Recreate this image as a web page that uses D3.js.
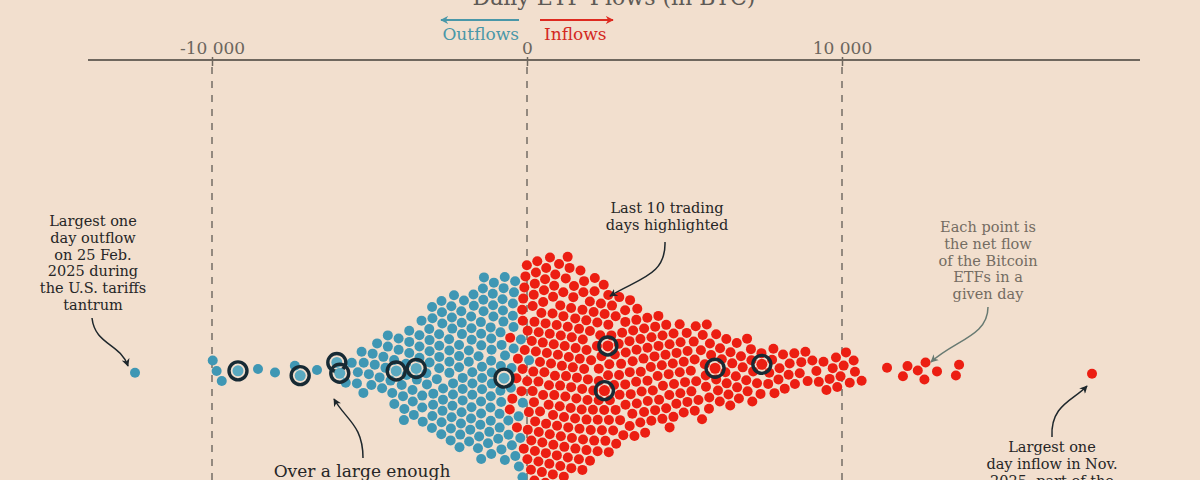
<!DOCTYPE html>
<html><head><meta charset="utf-8">
<script src="https://cdn.jsdelivr.net/npm/d3@7"></script>
<style>html,body{margin:0;padding:0;background:#f2dfce;}svg{display:block;}</style>
</head><body>
<svg id="chart" width="1200" height="480"></svg>
<script>
// ---------------- DATA (daily net flows, BTC) ----------------
const title = "Daily ETF Flows (in BTC)";
const tickValues = [-10000, 0, 10000];
const tickLabels = ["-10 000", "0", "10 000"];

const outflows = [
-3,-12,-35,-51,-68,-74,-95,-109,-137,-160,-171,-196,-243,
-258,-266,-289,-318,-341,-352,-370,-392,-431,-447,-468,-489,
-509,-530,-538,-561,-584,-597,-618,-642,-655,-679,-701,-716,-742,
-752,-781,-790,-812,-836,-849,-871,-893,-911,-926,-953,-968,-991,
-1013,-1037,-1049,-1078,-1094,-1121,-1138,-1162,-1179,-1203,-1227,-1241,
-1262,-1281,-1307,-1320,-1348,-1371,-1386,-1412,-1429,-1453,-1471,-1496,
-1504,-1529,-1547,-1571,-1588,-1613,-1632,-1654,-1679,-1697,-1722,-1741,
-1763,-1781,-1809,-1827,-1852,-1871,-1898,-1924,-1943,-1968,-1990,
-2017,-2039,-2068,-2089,-2117,-2142,-2163,-2191,-2214,-2238,
-2259,-2291,-2313,-2346,-2371,-2398,-2427,-2451,-2482,
-2509,-2544,-2572,-2603,-2638,-2667,-2696,-2731,
-2768,-2797,-2829,-2858,-2893,-2921,-2954,-2987,
-3019,-3057,-3088,-3126,-3163,-3199,-3238,
-3271,-3309,-3348,-3382,-3421,-3493,
-3528,-3566,-3609,-3648,-3689,-3727,
-3779,-3826,-3871,-3917,-3968,
-4073,-4121,-4176,-4231,
-4279,-4338,-4392,-4457,
-4526,-4589,-4648,-4712,
-4792,-4873,-4951,
-5046,-5131,-5224,
-5318,-5447,
-5556,-5714,
-6667,-7365,-8000,-8540,-9700,-9850,-9970,
-12444
];

const inflows = [
4,13,22,27,36,49,63,71,84,90,102,117,129,148,156,167,179,192,218,236,
251,264,272,283,289,296,303,311,332,339,346,358,371,379,398,410,419,428,437,443,452,461,479,488,497,
506,512,522,531,540,546,553,569,577,592,601,611,618,627,641,656,663,671,678,684,692,701,717,726,738,748,
759,764,771,779,798,806,812,821,837,842,850,866,873,889,903,911,917,929,935,941,958,967,983,996,
1009,1022,1035,1041,1053,1067,1084,1092,1111,1118,1128,1136,1157,1172,1186,1199,1206,1217,1229,1247,
1262,1279,1296,1308,1322,1331,1348,1359,1377,1393,1406,1414,1427,1443,1461,1478,1495,
1511,1534,1549,1571,1592,1608,1629,1648,1667,1689,1706,1727,1746,
1766,1783,1809,1827,1849,1872,1891,1914,1933,1951,1976,1994,
2018,2039,2087,2108,2131,2152,2177,2198,2219,2246,
2264,2291,2317,2342,2409,2433,2458,2471,2496,
2517,2543,2571,2596,2622,2651,2679,2704,2738,
2761,2789,2818,2842,2873,2899,2926,2953,2982,
3011,3037,3066,3091,3118,3147,3173,3202,3229,
3262,3288,3311,3343,3369,3398,3422,3451,3483,
3513,3546,3572,3604,3633,3661,3692,3728,
3757,3788,3819,3847,3876,3912,3941,3973,
4022,4056,4093,4121,4158,4189,4231,
4261,4298,4331,4367,4402,4437,4482,
4519,4551,4592,4627,4661,4698,4733,
4768,4801,4838,4872,4907,4943,4986,
5024,5063,5101,5148,5187,5232,
5271,5309,5352,5394,5431,5478,
5512,5553,5601,5638,5682,5729,
5771,5817,5926,5958,5993,
6031,6077,6112,6169,6221,
6268,6314,6372,6409,6468,
6517,6571,6609,6668,6719,
6778,6846,6893,6962,
7028,7094,7143,7216,
7263,7377,7441,
7547,7613,7709,
7781,7872,7941,
8042,8108,8203,
8276,8369,8438,
8533,8598,8701,
8786,8918,
9063,9181,
9302,9426,
9541,9617,9699,
9787,9861,9956,
10028,10124,10213,
10301,10422,
10610,11430,11937,12095,12413,12603,12640,13016,13619,13714,
17937
];

// last trading days (highlighted)
const lastDays = [-9175,-7206,-6032,-5937,-4032,-3460,-222,2063,2381,5873,7302];

// ---------------- DRAWING ----------------
const W = 1200, H = 480;
const svg = d3.select("#chart");
const BG = "#f2dfce", BLUE = "#3f97b4", RED = "#ec1e12", RING = "#172a34";
const FONT = "'DejaVu Serif', Georgia, serif";
svg.append("rect").attr("width", W).attr("height", H).attr("fill", BG);

const x = d3.scaleLinear().domain([-10000, 10000]).range([212, 842]);
const axisY = 60, cy = 376;

const defs = svg.append("defs");
function marker(id, color) {
  defs.append("marker").attr("id", id).attr("viewBox", "0 0 10 10")
    .attr("refX", 9).attr("refY", 5).attr("markerWidth", 8).attr("markerHeight", 8)
    .attr("markerUnits", "userSpaceOnUse").attr("orient", "auto")
    .append("path").attr("d", "M0,0 L10,5 L0,10 L3,5 Z").attr("fill", color);
}
marker("arDark", "#1e272c");
marker("arGray", "#687a72");
marker("arBlue", "#4a97a8");
marker("arRed", "#de2a20");

svg.append("text").attr("x", 614).attr("y", 5).attr("text-anchor", "middle")
  .attr("font-family", FONT).attr("font-size", 22).attr("fill", "#5e5a55").text(title);

svg.append("g").selectAll("line").data(tickValues).join("line")
  .attr("x1", d => x(d)).attr("x2", d => x(d)).attr("y1", 67).attr("y2", H)
  .attr("stroke", "#746d65").attr("stroke-width", 1.5).attr("stroke-dasharray", "7,7");

const axis = d3.axisTop(x).tickValues(tickValues).tickFormat((d, i) => tickLabels[i])
  .tickSize(-6).tickPadding(12);
const ag = svg.append("g").attr("transform", `translate(0,${axisY})`).call(axis);
ag.select(".domain").remove();
ag.selectAll(".tick line").attr("stroke", "#6f675e").attr("stroke-width", 1.5).attr("y1", -3);
ag.selectAll(".tick text").attr("font-family", FONT).attr("font-size", 17).attr("fill", "#6b655d").attr("dy", 0).attr("y", -6);
svg.append("line").attr("x1", 88).attr("x2", 1140).attr("y1", axisY).attr("y2", axisY)
  .attr("stroke", "#6f675e").attr("stroke-width", 2);

svg.append("line").attr("x1", x(0) - 8).attr("x2", 441).attr("y1", 20).attr("y2", 20)
  .attr("stroke", "#4a97a8").attr("stroke-width", 2).attr("marker-end", "url(#arBlue)");
svg.append("line").attr("x1", x(0) + 13).attr("x2", 613).attr("y1", 20).attr("y2", 20)
  .attr("stroke", "#de2a20").attr("stroke-width", 2).attr("marker-end", "url(#arRed)");
svg.append("text").attr("x", 519).attr("y", 40).attr("text-anchor", "end")
  .attr("font-family", FONT).attr("font-size", 17).attr("fill", "#4a97a8").text("Outflows");
svg.append("text").attr("x", 544).attr("y", 40).attr("text-anchor", "start")
  .attr("font-family", FONT).attr("font-size", 17).attr("fill", "#d4281f").text("Inflows");

// beeswarm (highlighted days first so they start near the centre line)
const nodes = [
  ...lastDays.map(v => ({ v, hl: true })),
  ...outflows.map(v => ({ v, hl: false })),
  ...inflows.map(v => ({ v, hl: false }))
];
const sim = d3.forceSimulation(nodes)
  .force("x", d3.forceX(d => x(d.v)).strength(1))
  .force("y", d3.forceY(cy).strength(0.06))
  .force("c", d3.forceCollide(5.6).strength(0.9).iterations(1))
  .stop();
for (let i = 0; i < 400; i++) sim.tick();

const dots = svg.append("g");
dots.selectAll("circle").data(nodes.filter(d => !d.hl)).join("circle")
  .attr("cx", d => d.x).attr("cy", d => d.y).attr("r", 5)
  .attr("fill", d => d.v < 0 ? BLUE : RED);
const hl = svg.append("g").selectAll("g").data(nodes.filter(d => d.hl)).join("g");
hl.append("circle").attr("cx", d => d.x).attr("cy", d => d.y).attr("r", 5.5)
  .attr("fill", d => d.v < 0 ? "#5aa9c0" : RED);
hl.append("circle").attr("cx", d => d.x).attr("cy", d => d.y).attr("r", 9)
  .attr("fill", "none").attr("stroke", RING).attr("stroke-width", 3.4);

function note(lines, cx, y0, color, size, lh) {
  const t = svg.append("text").attr("font-family", FONT).attr("font-size", size)
    .attr("fill", color).attr("text-anchor", "middle");
  lines.forEach((l, i) => t.append("tspan").attr("x", cx).attr("y", y0 + i * lh).text(l));
}
function arrow(d, mk, color) {
  svg.append("path").attr("d", d).attr("fill", "none").attr("stroke", color)
    .attr("stroke-width", 1.5).attr("marker-end", `url(#${mk})`);
}
const DARK = "#262626";
note(["Largest one", "day outflow", "on 25 Feb.", "2025 during", "the U.S. tariffs", "tantrum"], 93, 226, DARK, 14.5, 16.8);
arrow("M92,318 C95,345 120,343 128,366", "arDark", "#1e272c");

note(["Last 10 trading", "days highlighted"], 667, 213, DARK, 14.5, 16.8);
arrow("M665,242 C666,275 640,278 610,296", "arDark", "#1e272c");

note(["Each point is", "the net flow", "of the Bitcoin", "ETFs in a", "given day"], 988, 232, "#746c62", 14.5, 16.8);
arrow("M988,307 C988,336 955,340 931,362", "arGray", "#687a72");

note(["Largest one", "day inflow in Nov.", "2025, part of the"], 1052, 452, DARK, 14.5, 16.8);
arrow("M1052,437 C1050,405 1074,400 1087,386", "arDark", "#1e272c");

note(["Over a large enough"], 362, 477, DARK, 17, 19);
arrow("M363,458 C363,425 346,420 334,399", "arDark", "#1e272c");
</script>
</body></html>
